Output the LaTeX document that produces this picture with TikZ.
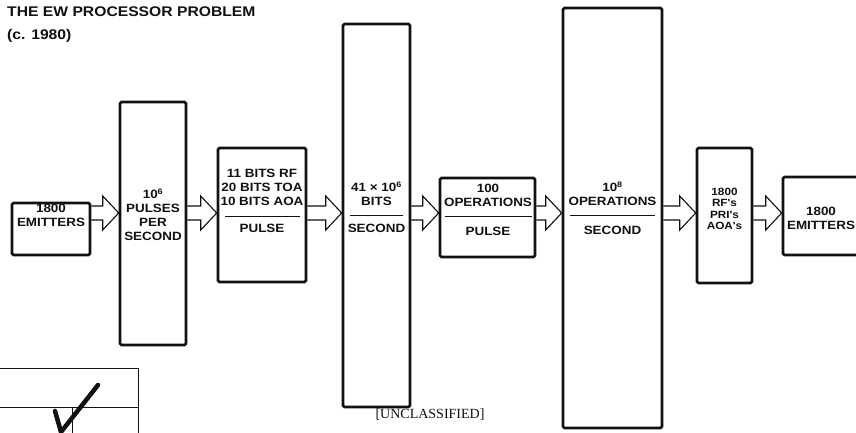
\documentclass[tikz,border=0pt]{standalone}
\usepackage{fontspec}
\usetikzlibrary{calc}
\newfontfamily\labelfont{Liberation Sans}[FakeStretch=1.12]
\newfontfamily\stampfont{Liberation Serif}
\definecolor{ScanInk}{HTML}{111111}

\tikzset{
  blk/.style={draw=ScanInk,line width=2.6pt,rounded corners=1.5pt,inner sep=0pt},
  txt/.style={font=\labelfont\bfseries\fontsize{12}{14}\selectfont,text=ScanInk,align=center,inner sep=0pt},
  flow/.style={draw=ScanInk,line width=1.1pt,line join=miter},
  rule/.style={draw=ScanInk,line width=1pt}
}
% hollow block arrow from one box to the next, on the line y=213
\newcommand{\hollowarrow}[2]{%
  \draw[flow] (#1.east |- 0,206) -- ($(#2.west |- 0,206)+(-16,0)$) -- ($(#2.west |- 0,196)+(-16,0)$)
    -- (#2.west |- 0,213) -- ($(#2.west |- 0,230)+(-16,0)$) -- ($(#2.west |- 0,220)+(-16,0)$) -- (#1.east |- 0,220);}

\begin{document}
\begin{tikzpicture}[x=1pt,y=-1pt]
  \useasboundingbox (0,0) rectangle (856,433);

  \node[txt,anchor=north west,align=left,font=\labelfont\bfseries\fontsize{14}{23}\selectfont] (title) at (7,7)
    {THE EW PROCESSOR PROBLEM\\(c. 1980)};

  % boxes
  \node[blk,minimum width=78,minimum height=52] (src) at (51,229) {};
  \node[blk,minimum width=66,minimum height=243] (rate) at (153,223.5) {};
  \node[blk,minimum width=88,minimum height=134] (word) at (262,215) {};
  \node[blk,minimum width=67,minimum height=383] (bits) at (376.5,215.5) {};
  \node[blk,minimum width=95,minimum height=79] (ops) at (487.5,217.5) {};
  \node[blk,minimum width=99,minimum height=420] (load) at (612.5,218) {};
  \node[blk,minimum width=55,minimum height=135] (out) at (724.5,215.5) {};
  \node[blk,minimum width=82,minimum height=78] (dst) at (824,216) {};

  % texts
  \node[txt] (srcT) at (51,215) {1800\\EMITTERS};
  \node[txt] (rateT) at (153,215) {10\textsuperscript{6}\\PULSES\\PER\\SECOND};
  \node[txt] (wordT) at (262,187) {11 BITS RF\\20 BITS TOA\\10 BITS AOA};
  \node[txt] (wordB) at (262,228) {PULSE};
  \node[txt] (bitsT) at (376.5,194) {41 × 10\textsuperscript{6}\\BITS};
  \node[txt] (bitsB) at (376.5,228) {SECOND};
  \node[txt] (opsT) at (488,195) {100\\OPERATIONS};
  \node[txt] (opsB) at (488,231) {PULSE};
  \node[txt] (loadT) at (612.5,194) {10\textsuperscript{8}\\OPERATIONS};
  \node[txt] (loadB) at (612.5,230) {SECOND};
  \node[txt,font=\labelfont\bfseries\fontsize{10.5}{11.5}\selectfont] (outT) at (724.5,209) {1800\\RF's\\PRI's\\AOA's};
  \node[txt] (dstT) at (821,218) {1800\\EMITTERS};

  % fraction rules
  \draw[rule] (225,216) -- (300,216);
  \draw[rule] (350,215) -- (403,215);
  \draw[rule] (445,216) -- (532,216);
  \draw[rule] (570,215) -- (655,215);

  % arrows
  \hollowarrow{src}{rate}
  \hollowarrow{rate}{word}
  \hollowarrow{word}{bits}
  \hollowarrow{bits}{ops}
  \hollowarrow{ops}{load}
  \hollowarrow{load}{out}
  \hollowarrow{out}{dst}

  \node[font=\stampfont\fontsize{14}{16}\selectfont,text=ScanInk] (mark) at (430,415) {[UNCLASSIFIED]};

  % stamp in the corner
  \draw[ScanInk,line width=1pt] (0,368) -- (138,368) -- (138,433);
  \draw[ScanInk,line width=1pt] (0,407) -- (138,407);
  \draw[ScanInk,line width=1pt] (72,407) -- (72,433);
  \draw[ScanInk,line width=4.5pt,line cap=round] (55,411) -- (61,432) -- (98,385);
\end{tikzpicture}
\end{document}
